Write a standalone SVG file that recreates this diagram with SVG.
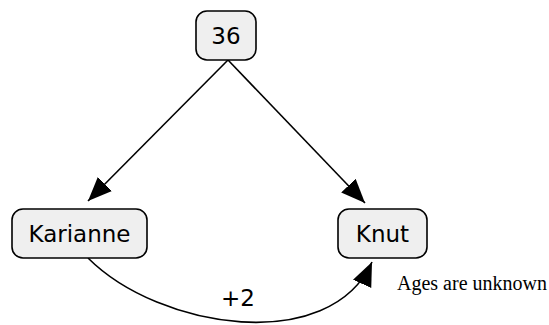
<svg xmlns="http://www.w3.org/2000/svg" width="549" height="325" viewBox="0 0 549 325">
<style>
.box{fill:#efefef;stroke:#000;stroke-width:1.6}
.lbl{font-family:"DejaVu Sans",Verdana,sans-serif;font-size:23px;fill:#000;text-anchor:middle}
.edge{fill:none;stroke:#000;stroke-width:1.6}
.note{font-family:"Liberation Serif","Times New Roman",serif;font-size:20px;fill:#000}
</style>
<defs>
<marker id="ah" markerUnits="userSpaceOnUse" markerWidth="26" markerHeight="22" refX="24" refY="10" orient="auto">
<path d="M0,0 L24,10 L0,20 z" fill="#000"/>
</marker>
</defs>
<g id="connectors">
<line class="edge" x1="228" y1="60" x2="88" y2="201" marker-end="url(#ah)"/>
<line class="edge" x1="228" y1="60" x2="365" y2="203" marker-end="url(#ah)"/>
<path class="edge" d="M88,258 C160,330 330,355 372,262" marker-end="url(#ah)"/>
<text class="lbl" x="238" y="306" font-size="22">+2</text>
</g>
<g id="n36">
<rect class="box" x="196" y="11" width="60" height="49" rx="11"/>
<text class="lbl" x="226" y="44">36</text>
</g>
<g id="karianne">
<rect class="box" x="12" y="209" width="135" height="49" rx="11"/>
<text class="lbl" x="79.5" y="242">Karianne</text>
</g>
<g id="knut">
<rect class="box" x="338" y="209" width="89" height="49" rx="11"/>
<text class="lbl" x="382.5" y="242">Knut</text>
</g>
<text class="note" x="397" y="290">Ages are unknown</text>
</svg>
